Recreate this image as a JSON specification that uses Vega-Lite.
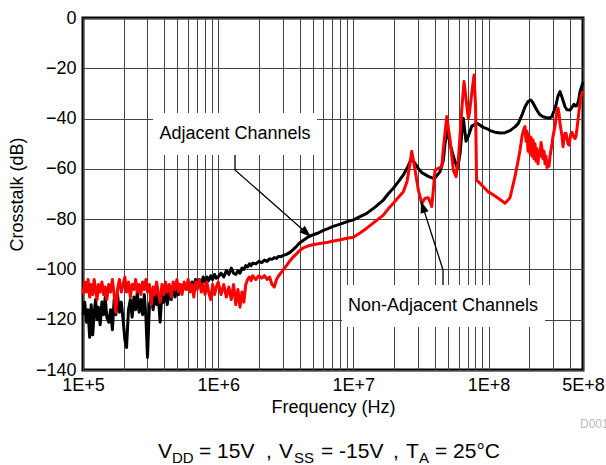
{
"$schema": "https://vega.github.io/schema/vega-lite/v6.json",
"width": 500, "height": 352,
"autosize": {"type": "none"},
"padding": {"left": 83, "top": 18, "right": 23, "bottom": 95},
"background": "white",
"config": {
  "font": "Liberation Sans",
  "view": {"stroke": "black", "strokeWidth": 3},
  "axis": {"labelFont": "Liberation Sans", "titleFont": "Liberation Sans", "labelColor": "black", "titleColor": "black", "titleFontWeight": "normal", "gridColor": "#444", "gridWidth": 1, "gridOpacity": 1}
},
"datasets": {
"adj": [
{"f":1.00e5,"db":-118},{"f":1.03e5,"db":-113},{"f":1.06e5,"db":-121},{"f":1.09e5,"db":-116},{"f":1.12e5,"db":-127},{"f":1.15e5,"db":-114},{"f":1.18e5,"db":-126},{"f":1.21e5,"db":-117},{"f":1.24e5,"db":-112},{"f":1.27e5,"db":-120},{"f":1.30e5,"db":-115},{"f":1.34e5,"db":-122},{"f":1.38e5,"db":-113},{"f":1.42e5,"db":-118},{"f":1.46e5,"db":-111},{"f":1.50e5,"db":-119},{"f":1.55e5,"db":-121},{"f":1.60e5,"db":-116},{"f":1.65e5,"db":-124},{"f":1.70e5,"db":-112},{"f":1.75e5,"db":-118},{"f":1.80e5,"db":-110},{"f":1.86e5,"db":-117},{"f":1.92e5,"db":-113},{"f":1.98e5,"db":-120},{"f":2.04e5,"db":-128},{"f":2.10e5,"db":-131},{"f":2.17e5,"db":-116},{"f":2.24e5,"db":-112},{"f":2.31e5,"db":-119},{"f":2.38e5,"db":-111},{"f":2.45e5,"db":-116},{"f":2.52e5,"db":-109},{"f":2.60e5,"db":-117},{"f":2.68e5,"db":-112},{"f":2.76e5,"db":-118},{"f":2.84e5,"db":-110},{"f":2.92e5,"db":-119},{"f":3.00e5,"db":-135},{"f":3.10e5,"db":-114},{"f":3.20e5,"db":-111},{"f":3.30e5,"db":-116},{"f":3.40e5,"db":-109},{"f":3.50e5,"db":-114},{"f":3.60e5,"db":-110},{"f":3.72e5,"db":-121},{"f":3.84e5,"db":-109},{"f":3.96e5,"db":-113},{"f":4.08e5,"db":-108},{"f":4.20e5,"db":-114},{"f":4.35e5,"db":-109},{"f":4.50e5,"db":-112},{"f":4.65e5,"db":-107},{"f":4.80e5,"db":-111},{"f":4.95e5,"db":-107},{"f":5.10e5,"db":-110},{"f":5.25e5,"db":-106},{"f":5.40e5,"db":-109},{"f":5.60e5,"db":-106},{"f":5.80e5,"db":-108},{"f":6.00e5,"db":-105},{"f":6.20e5,"db":-108},{"f":6.40e5,"db":-105},{"f":6.60e5,"db":-107},{"f":6.80e5,"db":-104},{"f":7.00e5,"db":-106},{"f":7.25e5,"db":-104},{"f":7.50e5,"db":-106},{"f":7.75e5,"db":-103},{"f":8.00e5,"db":-105},{"f":8.25e5,"db":-103},{"f":8.50e5,"db":-104.5},{"f":8.80e5,"db":-102.5},{"f":9.10e5,"db":-104},{"f":9.40e5,"db":-102},{"f":9.70e5,"db":-103.5},
{"f":1.00e6,"db":-103},{"f":1.05e6,"db":-101.5},{"f":1.10e6,"db":-103},{"f":1.15e6,"db":-100.5},{"f":1.20e6,"db":-102},{"f":1.25e6,"db":-99.5},{"f":1.30e6,"db":-101.5},{"f":1.35e6,"db":-102},{"f":1.40e6,"db":-100.5},{"f":1.45e6,"db":-101.5},{"f":1.50e6,"db":-99.5},{"f":1.55e6,"db":-100},{"f":1.60e6,"db":-98.5},{"f":1.65e6,"db":-99},{"f":1.70e6,"db":-97.8},{"f":1.75e6,"db":-98.5},{"f":1.80e6,"db":-97.5},{"f":1.90e6,"db":-97.8},{"f":2.00e6,"db":-96.8},{"f":2.10e6,"db":-97.3},{"f":2.20e6,"db":-96.3},{"f":2.30e6,"db":-96.8},{"f":2.40e6,"db":-95.8},{"f":2.50e6,"db":-96},{"f":2.60e6,"db":-95.3},{"f":2.70e6,"db":-95.6},{"f":2.80e6,"db":-94.8},{"f":2.90e6,"db":-95},{"f":3.00e6,"db":-94.5},{"f":3.20e6,"db":-94},{"f":3.40e6,"db":-93.2},{"f":3.60e6,"db":-92},{"f":3.80e6,"db":-90.8},{"f":4.00e6,"db":-89.5},{"f":4.30e6,"db":-88.3},{"f":4.60e6,"db":-87.2},{"f":5.00e6,"db":-86.3},{"f":5.50e6,"db":-85.5},{"f":6.00e6,"db":-84.5},{"f":6.50e6,"db":-83.8},{"f":7.00e6,"db":-83.0},{"f":8.00e6,"db":-82.0},{"f":9.00e6,"db":-81.0},
{"f":1.000e7,"db":-80.3},{"f":1.121e7,"db":-79},{"f":1.2565e7,"db":-77.7},{"f":1.4472e7,"db":-75.2},{"f":1.6672e7,"db":-72.4},{"f":1.8063e7,"db":-70},{"f":1.9766e7,"db":-67.7},{"f":2.1414e7,"db":-65.3},{"f":2.3442e7,"db":-62.4},{"f":2.4963e7,"db":-59.8},{"f":2.6049e7,"db":-57.6},{"f":2.7041e7,"db":-55.8},{"f":2.7884e7,"db":-57},{"f":3.0260e7,"db":-59.8},{"f":3.2066e7,"db":-61.5},{"f":3.5881e7,"db":-63},{"f":3.9070e7,"db":-63.8},{"f":4.0218e7,"db":-63.6},{"f":4.3791e7,"db":-61.1},{"f":4.6325e7,"db":-56.5},{"f":4.7686e7,"db":-50},{"f":4.9764e7,"db":-44.5},{"f":5.1929e7,"db":-50},{"f":5.4933e7,"db":-55},{"f":5.8999e7,"db":-60},{"f":6.1566e7,"db":-54},{"f":6.3376e7,"db":-46},{"f":6.5129e7,"db":-39.9},{"f":6.8193e7,"db":-49},{"f":7.0922e7,"db":-47},{"f":7.5150e7,"db":-43},{"f":8.2249e7,"db":-41.9},{"f":9.1569e7,"db":-43.5},
{"f":1.0e8,"db":-44.3},{"f":1.0259e8,"db":-44.8},{"f":1.1171e8,"db":-45.4},{"f":1.2164e8,"db":-45.7},{"f":1.3246e8,"db":-45.6},{"f":1.4423e8,"db":-44.8},{"f":1.5706e8,"db":-43.3},{"f":1.6616e8,"db":-41.9},{"f":1.7849e8,"db":-38},{"f":1.8626e8,"db":-35.3},{"f":1.9602e8,"db":-33.2},{"f":2.0527e8,"db":-32.6},{"f":2.1344e8,"db":-33.8},{"f":2.2734e8,"db":-36.6},{"f":2.4046e8,"db":-38.5},{"f":2.5307e8,"db":-39.3},{"f":2.6633e8,"db":-39.6},{"f":2.8029e8,"db":-39.8},{"f":2.9347e8,"db":-39.3},{"f":3.0520e8,"db":-37},{"f":3.1577e8,"db":-34.6},{"f":3.2671e8,"db":-31},{"f":3.3802e8,"db":-29.3},{"f":3.4973e8,"db":-31.5},{"f":3.6806e8,"db":-35.3},{"f":3.8081e8,"db":-36.5},{"f":4.0077e8,"db":-36.6},{"f":4.1465e8,"db":-35.5},{"f":4.2901e8,"db":-34.3},{"f":4.40e8,"db":-35},{"f":4.5149e8,"db":-34.8},{"f":4.63e8,"db":-33},{"f":4.7516e8,"db":-29.3},{"f":4.87e8,"db":-27.5},{"f":5.0e8,"db":-25.5}
],
"non": [
{"f":1.00e5,"db":-110},{"f":1.03e5,"db":-105},{"f":1.06e5,"db":-109},{"f":1.09e5,"db":-104},{"f":1.12e5,"db":-111},{"f":1.15e5,"db":-106},{"f":1.18e5,"db":-110},{"f":1.21e5,"db":-104},{"f":1.24e5,"db":-108},{"f":1.27e5,"db":-112},{"f":1.30e5,"db":-106},{"f":1.34e5,"db":-109},{"f":1.38e5,"db":-105},{"f":1.42e5,"db":-110},{"f":1.46e5,"db":-107},{"f":1.50e5,"db":-112},{"f":1.55e5,"db":-106},{"f":1.60e5,"db":-109},{"f":1.65e5,"db":-104},{"f":1.70e5,"db":-110},{"f":1.75e5,"db":-117},{"f":1.80e5,"db":-108},{"f":1.86e5,"db":-104},{"f":1.92e5,"db":-109},{"f":1.98e5,"db":-106},{"f":2.04e5,"db":-103},{"f":2.10e5,"db":-109},{"f":2.17e5,"db":-105},{"f":2.24e5,"db":-111},{"f":2.31e5,"db":-106},{"f":2.38e5,"db":-108},{"f":2.45e5,"db":-104},{"f":2.52e5,"db":-109},{"f":2.60e5,"db":-106},{"f":2.68e5,"db":-110},{"f":2.76e5,"db":-105},{"f":2.84e5,"db":-108},{"f":2.92e5,"db":-104},{"f":3.00e5,"db":-109},{"f":3.10e5,"db":-106},{"f":3.20e5,"db":-114},{"f":3.30e5,"db":-107},{"f":3.40e5,"db":-110},{"f":3.50e5,"db":-105},{"f":3.60e5,"db":-109},{"f":3.72e5,"db":-113},{"f":3.84e5,"db":-106},{"f":3.96e5,"db":-110},{"f":4.08e5,"db":-105},{"f":4.20e5,"db":-109},{"f":4.35e5,"db":-106},{"f":4.50e5,"db":-111},{"f":4.65e5,"db":-105},{"f":4.80e5,"db":-108},{"f":4.95e5,"db":-104},{"f":5.10e5,"db":-109},{"f":5.25e5,"db":-106},{"f":5.40e5,"db":-110},{"f":5.60e5,"db":-105},{"f":5.80e5,"db":-108},{"f":6.00e5,"db":-104},{"f":6.20e5,"db":-109},{"f":6.40e5,"db":-106},{"f":6.60e5,"db":-111},{"f":6.80e5,"db":-105},{"f":7.00e5,"db":-108},{"f":7.25e5,"db":-104},{"f":7.50e5,"db":-109},{"f":7.75e5,"db":-106},{"f":8.00e5,"db":-110},{"f":8.25e5,"db":-105},{"f":8.50e5,"db":-109},{"f":8.80e5,"db":-112},{"f":9.10e5,"db":-106},{"f":9.40e5,"db":-110},{"f":9.70e5,"db":-107},
{"f":1.00e6,"db":-105},{"f":1.05e6,"db":-110},{"f":1.10e6,"db":-106},{"f":1.15e6,"db":-111},{"f":1.20e6,"db":-107},{"f":1.25e6,"db":-112},{"f":1.30e6,"db":-106},{"f":1.35e6,"db":-114},{"f":1.40e6,"db":-108},{"f":1.45e6,"db":-115},{"f":1.50e6,"db":-109},{"f":1.55e6,"db":-113},{"f":1.60e6,"db":-106},{"f":1.65e6,"db":-104},{"f":1.70e6,"db":-103},{"f":1.75e6,"db":-104.5},{"f":1.80e6,"db":-102.5},{"f":1.90e6,"db":-104},{"f":2.00e6,"db":-102.5},{"f":2.10e6,"db":-103.5},{"f":2.20e6,"db":-102.5},{"f":2.30e6,"db":-104},{"f":2.40e6,"db":-103},{"f":2.50e6,"db":-106},{"f":2.60e6,"db":-107},{"f":2.70e6,"db":-104},{"f":2.80e6,"db":-102.5},{"f":2.90e6,"db":-101.5},{"f":3.00e6,"db":-100.5},{"f":3.20e6,"db":-98.5},{"f":3.40e6,"db":-96.5},{"f":3.60e6,"db":-95},{"f":3.80e6,"db":-93.8},{"f":4.00e6,"db":-92.5},{"f":4.30e6,"db":-91.3},{"f":4.60e6,"db":-90.7},{"f":5.00e6,"db":-90.2},{"f":5.50e6,"db":-89.8},{"f":6.00e6,"db":-89.5},{"f":6.50e6,"db":-89.2},{"f":7.00e6,"db":-88.8},{"f":8.00e6,"db":-88.2},{"f":9.00e6,"db":-87.6},
{"f":1.0e7,"db":-87.2},{"f":1.121e7,"db":-85.5},{"f":1.2565e7,"db":-83.6},{"f":1.4472e7,"db":-81},{"f":1.6672e7,"db":-78.4},{"f":1.8063e7,"db":-76},{"f":1.9766e7,"db":-73.7},{"f":2.1414e7,"db":-71.5},{"f":2.3442e7,"db":-69.1},{"f":2.4963e7,"db":-65},{"f":2.6049e7,"db":-59},{"f":2.7041e7,"db":-53},{"f":2.7884e7,"db":-57},{"f":2.8605e7,"db":-60.5},{"f":3.0260e7,"db":-68.4},{"f":3.2066e7,"db":-73.7},{"f":3.3919e7,"db":-71.7},{"f":3.5881e7,"db":-71.5},{"f":3.6934e7,"db":-73},{"f":3.8019e7,"db":-75},{"f":3.9070e7,"db":-68.4},{"f":4.0218e7,"db":-60.5},{"f":4.2542e7,"db":-59.8},{"f":4.5079e7,"db":-59.1},{"f":4.6325e7,"db":-52},{"f":4.9091e7,"db":-39.2},{"f":5.1929e7,"db":-48.5},{"f":5.4933e7,"db":-60.5},{"f":5.7518e7,"db":-63.1},{"f":5.9811e7,"db":-56.5},{"f":6.3376e7,"db":-36.6},{"f":6.5910e7,"db":-25.3},{"f":6.9723e7,"db":-36.6},{"f":7.0922e7,"db":-40},{"f":7.2140e7,"db":-38},{"f":7.5150e7,"db":-30},{"f":7.8152e7,"db":-22.7},{"f":8.0172e7,"db":-35},{"f":8.1551e7,"db":-64.4},{"f":9.1569e7,"db":-67.1},
{"f":1.0e8,"db":-69.3},{"f":1.0259e8,"db":-69.5},{"f":1.1171e8,"db":-70.8},{"f":1.2164e8,"db":-72.2},{"f":1.3246e8,"db":-73.7},{"f":1.4423e8,"db":-71.5},{"f":1.5706e8,"db":-63},{"f":1.6530e8,"db":-57},{"f":1.7105e8,"db":-52.5},{"f":1.7698e8,"db":-47},{"f":1.8311e8,"db":-44},{"f":1.8626e8,"db":-43.2},{"f":1.8946e8,"db":-49},{"f":1.9271e8,"db":-45},{"f":1.9602e8,"db":-53},{"f":1.9939e8,"db":-46.5},{"f":2.0281e8,"db":-54},{"f":2.0630e8,"db":-47.5},{"f":2.0984e8,"db":-55},{"f":2.1344e8,"db":-48.5},{"f":2.1711e8,"db":-56},{"f":2.2084e8,"db":-50},{"f":2.2463e8,"db":-57},{"f":2.2849e8,"db":-52},{"f":2.3241e8,"db":-58},{"f":2.3640e8,"db":-53},{"f":2.4046e8,"db":-55},{"f":2.4459e8,"db":-49.5},{"f":2.4879e8,"db":-52},{"f":2.5307e8,"db":-56},{"f":2.5741e8,"db":-53},{"f":2.6183e8,"db":-58},{"f":2.6633e8,"db":-55},{"f":2.7090e8,"db":-59.5},{"f":2.7556e8,"db":-57},{"f":2.8029e8,"db":-59},{"f":2.8510e8,"db":-55},{"f":2.9000e8,"db":-52.5},{"f":2.9498e8,"db":-50},{"f":3.0004e8,"db":-47},{"f":3.0520e8,"db":-45},{"f":3.1044e8,"db":-43},{"f":3.1577e8,"db":-40},{"f":3.2119e8,"db":-37},{"f":3.2671e8,"db":-35.9},{"f":3.3232e8,"db":-38},{"f":3.3802e8,"db":-42},{"f":3.4383e8,"db":-44.5},{"f":3.4973e8,"db":-47},{"f":3.5574e8,"db":-51.2},{"f":3.6185e8,"db":-48},{"f":3.6806e8,"db":-45.8},{"f":3.7438e8,"db":-45.8},{"f":3.8081e8,"db":-48},{"f":3.8735e8,"db":-50},{"f":3.9400e8,"db":-50.5},{"f":4.0077e8,"db":-48},{"f":4.0765e8,"db":-46},{"f":4.1465e8,"db":-45.5},{"f":4.2177e8,"db":-46.5},{"f":4.2901e8,"db":-47.5},{"f":4.3638e8,"db":-48},{"f":4.4387e8,"db":-47},{"f":4.5149e8,"db":-44},{"f":4.5925e8,"db":-40.6},{"f":4.6713e8,"db":-37},{"f":4.7516e8,"db":-34},{"f":4.8332e8,"db":-31.5},{"f":4.9162e8,"db":-30},{"f":5.0e8,"db":-29}
],
"boxes": [
{"f":3.296e5,"f2":5.385e6,"db":-37.8,"db2":-54.5},
{"f":8.245e6,"f2":2.617e8,"db":-106.2,"db2":-122.9}
],
"labels": [
{"f":1.332e6,"db":-46.1,"t":"Adjacent Channels"},
{"f":4.607e7,"db":-114.5,"t":"Non-Adjacent Channels"}
],
"arrows": [
{"a":1,"o":1,"f":1.332e6,"db":-54.5},{"a":1,"o":2,"f":1.332e6,"db":-60.45},{"a":1,"o":3,"f":4.862e6,"db":-87.1},
{"a":2,"o":1,"f":4.607e7,"db":-106.2},{"a":2,"o":2,"f":4.607e7,"db":-100.2},{"a":2,"o":3,"f":3.167e7,"db":-72.8}
],
"foot": [
{"f":3.588e5,"db":-175,"t":"V"},{"f":7.214e5,"db":-175,"t":"= 15V"},{"f":2.259e6,"db":-175,"t":","},{"f":2.818e6,"db":-175,"t":"V"},{"f":5.764e6,"db":-175,"t":"= -15V"},{"f":1.965e7,"db":-175,"t":","},{"f":2.452e7,"db":-175,"t":"T"},{"f":4.019e7,"db":-175,"t":"= 25°C"}
],
"sub": [
{"f":4.554e5,"db":-177,"t":"DD"},{"f":3.639e6,"db":-177,"t":"SS"},{"f":3.060e7,"db":-177,"t":"A"}
],
"mark": [
{"f":4.752e8,"db":-163,"t":"D001"}
]
},
"encoding": {
  "x": {"field": "f", "type": "quantitative", "scale": {"type": "log", "domain": [100000, 500000000], "nice": false},
    "axis": {"title": "Frequency (Hz)", "values": [100000,200000,300000,400000,500000,600000,700000,800000,900000,1000000,2000000,3000000,4000000,5000000,6000000,7000000,8000000,9000000,10000000,20000000,30000000,40000000,50000000,60000000,70000000,80000000,90000000,100000000,200000000,300000000,400000000,500000000],
      "labelExpr": "indexof([100000,1000000,10000000,100000000,500000000], datum.value) >= 0 ? upper(format(datum.value, '.0e')) : ''",
      "grid": true, "ticks": false, "domain": false, "labelFontSize": 18, "labelPadding": 6, "labelOverlap": false, "labelFlush": false, "titleFontSize": 18, "titlePadding": 4}},
  "y": {"field": "db", "type": "quantitative", "scale": {"domain": [-140, 0], "nice": false, "zero": false},
    "axis": {"title": "Crosstalk (dB)", "values": [-140,-120,-100,-80,-60,-40,-20,0], "grid": true, "ticks": false, "domain": false, "labelFontSize": 18, "labelPadding": 7, "titleFontSize": 18, "titlePadding": 9}}
},
"layer": [
{
  "data": {"name": "boxes"},
  "mark": {"type": "rect", "fill": "white", "stroke": null},
  "encoding": {"x2": {"field": "f2"}, "y2": {"field": "db2"}}
},
{
  "data": {"name": "adj"},
  "mark": {"type": "line", "color": "black", "strokeWidth": 3, "strokeJoin": "round"}
},
{
  "data": {"name": "non"},
  "mark": {"type": "line", "color": "#ff0000", "strokeWidth": 3, "strokeJoin": "round"}
},
{
  "data": {"name": "arrows"},
  "mark": {"type": "line", "color": "black", "strokeWidth": 1.3},
  "encoding": {"detail": {"field": "a"}, "order": {"field": "o"}}
},
{
  "data": {"values": [{"f": 4.503e6, "db": -85.5}]},
  "mark": {"type": "point", "shape": "M0,-1L-0.7,1L0.7,1Z", "size": 144, "filled": true, "color": "black", "opacity": 1, "angle": 131.4}
},
{
  "data": {"values": [{"f": 3.265e7, "db": -75.05}]},
  "mark": {"type": "point", "shape": "M0,-1L-0.7,1L0.7,1Z", "size": 144, "filled": true, "color": "black", "opacity": 1, "angle": 342.3}
},
{
  "data": {"name": "labels"},
  "mark": {"type": "text", "font": "Liberation Sans", "fontSize": 18, "align": "center", "baseline": "middle", "color": "black"},
  "encoding": {"text": {"field": "t"}}
},
{
  "data": {"name": "foot"},
  "mark": {"type": "text", "font": "Liberation Sans", "fontSize": 21, "align": "left", "baseline": "alphabetic", "color": "black"},
  "encoding": {"text": {"field": "t"}}
},
{
  "data": {"name": "sub"},
  "mark": {"type": "text", "font": "Liberation Sans", "fontSize": 15, "align": "left", "baseline": "alphabetic", "color": "black"},
  "encoding": {"text": {"field": "t"}}
},
{
  "data": {"name": "mark"},
  "mark": {"type": "text", "font": "Liberation Sans", "fontSize": 12, "align": "left", "baseline": "alphabetic", "color": "#bbbbbb"},
  "encoding": {"text": {"field": "t"}}
}
]
}
